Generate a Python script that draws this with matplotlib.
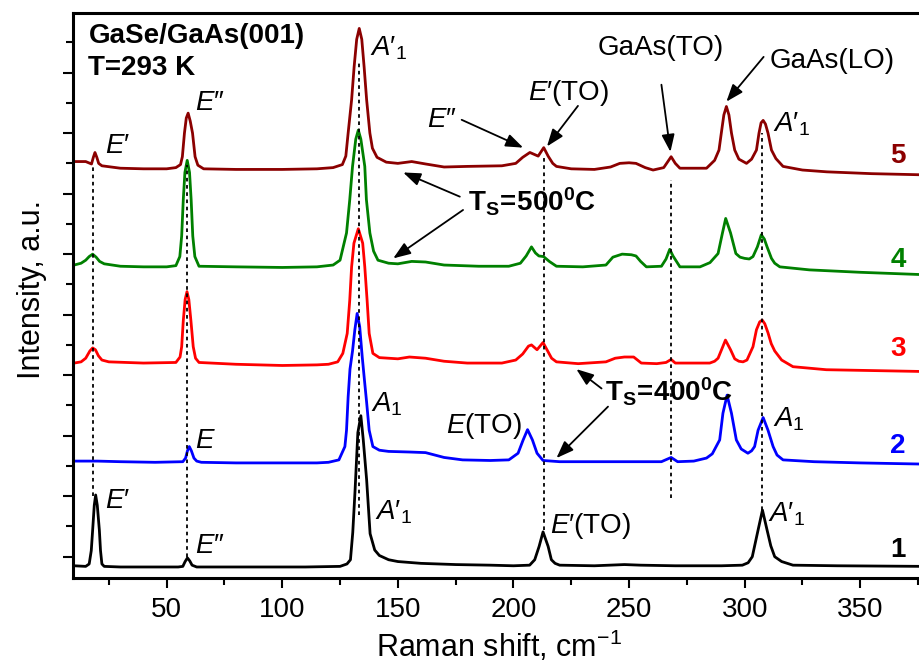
import matplotlib
matplotlib.use("Agg")
import matplotlib.pyplot as plt
import numpy as np
from matplotlib.ticker import MultipleLocator

plt.rcParams['font.family'] = ['Liberation Sans', 'DejaVu Sans']
plt.rcParams['mathtext.fontset'] = 'custom'
plt.rcParams['mathtext.rm'] = 'Liberation Sans'
plt.rcParams['mathtext.it'] = 'Liberation Sans:italic'
plt.rcParams['mathtext.bf'] = 'Liberation Sans:bold'

# spectra: (Raman shift, offset intensity)
spec1 = [(10, -0.15), (15, -0.16), (16.5, -0.12), (17.4, 0.1), (18, 0.44), (18.7, 0.85), (19.3, 1.02),
         (20, 0.85), (20.9, 0.44), (21.4, 0.1), (22, -0.12), (23, -0.16), (30, -0.17), (45, -0.17),
         (55, -0.17), (57, -0.16), (58, -0.08), (59, -0.02), (60, -0.07), (61, -0.14), (63, -0.17),
         (80, -0.17), (110, -0.17), (125, -0.16), (128, -0.12), (129.5, -0.05), (130.5, 0.4),
         (131.5, 1.1), (132.7, 2.05), (134, 2.33), (135, 1.95), (136.5, 1.27), (138, 0.38),
         (140, 0.11), (142, 0.02), (146, -0.05), (150, -0.08), (160, -0.11), (175, -0.13),
         (190, -0.14), (200, -0.15), (207, -0.14), (209.2, -0.05), (211.1, 0.17), (212.8, 0.41),
         (215, 0.17), (216.4, -0.05), (218, -0.11), (220, -0.14), (235, -0.15), (248, -0.13),
         (255, -0.14), (270, -0.15), (290, -0.15), (299, -0.14), (301.5, -0.1), (303.3, 0.0),
         (305.8, 0.44), (307.7, 0.77), (309.7, 0.44), (311.3, 0.18), (313, 0.0), (316, -0.08),
         (320.9, -0.14), (340, -0.15), (378, -0.16)]

spec2 = [(10, 1.58), (20, 1.58), (30, 1.57), (45, 1.56), (57, 1.57), (58.2, 1.63), (59, 1.75),
         (59.8, 1.82), (60.7, 1.75), (61.8, 1.63), (63, 1.58), (65, 1.56), (80, 1.55), (100, 1.55),
         (115, 1.55), (120, 1.56), (124.5, 1.6), (127.1, 1.82), (127.8, 2.09), (128.5, 2.64),
         (129.3, 3.1), (130.4, 3.4), (131.4, 3.75), (132.4, 4.02), (133.5, 3.8), (134.6, 3.3),
         (135.6, 2.9), (136.5, 2.55), (137.6, 2.09), (139.2, 1.82), (142, 1.76), (146, 1.74),
         (155, 1.73), (162, 1.72), (170, 1.64), (178, 1.6), (190, 1.59), (198, 1.6), (202, 1.71),
         (204.2, 1.93), (206.1, 2.1), (208.2, 1.93), (210.2, 1.71), (212.8, 1.59), (220, 1.57),
         (240, 1.57), (264, 1.57), (268.2, 1.64), (271, 1.57), (278, 1.58), (283.5, 1.63),
         (286, 1.7), (289.2, 1.93), (290.6, 2.37), (292.4, 2.67), (294.3, 2.37), (296.4, 1.93),
         (298.5, 1.78), (301.4, 1.71), (303, 1.75), (304.3, 1.82), (305.8, 2.09), (308, 2.3),
         (310.1, 2.09), (312.3, 1.82), (314, 1.68), (316.6, 1.6), (330, 1.57), (350, 1.55),
         (378, 1.53)]

spec3 = [(10, 3.2), (13, 3.22), (15, 3.28), (16.8, 3.4), (18, 3.45), (19.2, 3.42), (20.5, 3.32),
         (22, 3.25), (25, 3.22), (40, 3.2), (54, 3.21), (55.8, 3.3), (56.5, 3.47), (57.2, 3.9),
         (58, 4.25), (58.8, 4.38), (59.6, 4.25), (60.5, 3.9), (61.5, 3.47), (62.5, 3.28), (64, 3.21),
         (80, 3.18), (100, 3.16), (115, 3.17), (120, 3.18), (124, 3.22), (126.2, 3.36), (128.1, 3.69),
         (129.2, 4.24), (130, 4.79), (131, 5.18), (132.9, 5.42), (134.8, 5.18), (135.7, 4.79),
         (136.7, 4.24), (137.6, 3.69), (139.2, 3.36), (142, 3.29), (150, 3.27), (155, 3.3),
         (162, 3.28), (170, 3.23), (180, 3.2), (195, 3.2), (201, 3.25), (204, 3.35), (206.5, 3.48),
         (207.8, 3.5), (210.2, 3.42), (212.8, 3.54), (214.5, 3.42), (216.5, 3.28), (218.6, 3.22),
         (228, 3.19), (240, 3.22), (244, 3.28), (248, 3.3), (252, 3.3), (255.3, 3.2), (262, 3.19),
         (266, 3.21), (268.2, 3.26), (270, 3.2), (284.9, 3.2), (287, 3.23), (288.5, 3.28),
         (290, 3.42), (291.7, 3.58), (293.9, 3.42), (295.7, 3.27), (297.5, 3.23), (299.3, 3.22),
         (301, 3.25), (303.6, 3.47), (305.1, 3.75), (306.5, 3.88), (307.6, 3.91), (308.7, 3.85),
         (310.1, 3.7), (311.5, 3.52), (313, 3.4), (316, 3.25), (320.9, 3.14), (335.3, 3.09),
         (378, 3.06)]

spec4 = [(10, 4.82), (13, 4.85), (15, 4.9), (16.5, 4.96), (18, 5.0), (19.5, 4.95), (21, 4.88),
         (23, 4.84), (30, 4.8), (40, 4.79), (50, 4.79), (54, 4.81), (55.7, 4.96), (56.5, 5.3),
         (57.2, 5.9), (57.9, 6.35), (58.9, 6.55), (59.9, 6.35), (60.6, 5.9), (61.3, 5.3), (62.2, 4.96),
         (64, 4.8), (80, 4.79), (100, 4.78), (115, 4.79), (122, 4.82), (125, 4.9), (127.8, 5.35),
         (129.2, 5.9), (130.4, 6.45), (131.8, 6.9), (132.9, 7.05), (134, 6.9), (135.7, 6.45),
         (136.4, 5.9), (137.9, 5.35), (139.5, 5.05), (141.4, 4.9), (146, 4.85), (150, 4.84),
         (156, 4.88), (162, 4.87), (170, 4.82), (185, 4.8), (198, 4.8), (203, 4.85), (205.5, 4.97),
         (207.8, 5.12), (209.5, 5.02), (211, 4.97), (213, 4.96), (215.5, 4.88), (218.6, 4.8),
         (230, 4.79), (240, 4.82), (243, 4.95), (247, 5.0), (251, 4.99), (253, 4.97), (255, 4.88),
         (257.5, 4.79), (264, 4.8), (266, 4.92), (267.6, 5.08), (269, 4.97), (272, 4.79),
         (280.7, 4.79), (285, 4.86), (288.5, 5.01), (290.4, 5.35), (291.8, 5.59), (293.9, 5.35),
         (296.2, 5.01), (298, 4.95), (300, 4.93), (302, 4.92), (303.6, 4.96), (305.5, 5.12),
         (307.2, 5.32), (308.5, 5.25), (309.7, 5.12), (311.6, 4.93), (313, 4.85), (315.2, 4.79),
         (328, 4.74), (350, 4.7), (378, 4.66)]

spec5 = [(10, 6.53), (15, 6.53), (17.5, 6.49), (18.3, 6.6), (19, 6.68), (19.8, 6.6), (20.6, 6.5),
         (22, 6.46), (30, 6.42), (40, 6.41), (50, 6.41), (54, 6.43), (56, 6.48), (56.8, 6.61),
         (57.7, 7.0), (58.5, 7.25), (59.3, 7.33), (60.2, 7.2), (61.2, 7.0), (62.3, 6.61), (63.5, 6.47),
         (66, 6.41), (80, 6.4), (100, 6.4), (115, 6.41), (122, 6.43), (126, 6.48), (127.5, 6.62),
         (128.5, 7.0), (130, 7.55), (131.1, 8.1), (132.2, 8.55), (133.3, 8.73), (134.4, 8.55),
         (135.4, 8.1), (136.5, 7.55), (137.9, 7.0), (139, 6.75), (141, 6.6), (145, 6.52), (150, 6.5),
         (156, 6.53), (162, 6.49), (170, 6.44), (180, 6.45), (195, 6.46), (201, 6.5), (204, 6.6),
         (207.1, 6.68), (210.7, 6.62), (213.1, 6.76), (215, 6.62), (217, 6.5), (218.6, 6.45),
         (225, 6.41), (235, 6.4), (242, 6.44), (246, 6.5), (250, 6.51), (253, 6.5), (257, 6.43),
         (260.4, 6.39), (265, 6.43), (268.2, 6.61), (270, 6.5), (272, 6.42), (283.5, 6.42),
         (287, 6.55), (288.9, 6.72), (289.9, 7.0), (291, 7.3), (292.1, 7.44), (293.2, 7.3),
         (294.3, 7.0), (295.7, 6.72), (297.5, 6.57), (300.8, 6.5), (303, 6.57), (305.1, 6.72),
         (306.2, 7.0), (307.1, 7.17), (308, 7.21), (309, 7.15), (310.1, 7.0), (311.6, 6.72),
         (313.5, 6.58), (316.6, 6.45), (325, 6.39), (335.6, 6.36), (355, 6.33), (378, 6.31)]

spectra = [spec1, spec2, spec3, spec4, spec5]
colors = ['black', '#0000ff', '#ff0000', '#008000', '#8b0000']
numbers = ['1', '2', '3', '4', '5']
number_y = [0.0, 1.71, 3.31, 4.79, 6.51]

# dashed guide lines: position, bottom, top
guide_x = [18.3, 58.9, 133.3, 213.1, 268.2, 307.7]
guide_lo = [1.0, 0.0, 0.69, 0.44, 0.97, 0.77]
guide_hi = [6.45, 6.47, 8.2, 6.61, 6.23, 7.0]

P1 = "\u2032"
P2 = "\u2033"

# mode labels: text, x, baseline y
mode_labels = [
    ("$E" + P1 + "$", 23.3, 6.67), ("$E" + P2 + "$", 62.3, 7.38), ("$A" + P1 + "_1$", 138.0, 8.29),
    ("$E" + P2 + "$", 162.6, 7.10), ("$E" + P1 + "$(TO)", 206.3, 7.55), ("GaAs(TO)", 236.6, 8.29),
    ("GaAs(LO)", 310.8, 8.07), ("$A" + P1 + "_1$", 312.3, 7.02),
    ("$A_1$", 138.6, 2.40), ("$E$", 62.2, 1.80), ("$E$(TO)", 170.8, 2.04), ("$A_1$", 312.3, 2.15),
    ("$E" + P1 + "$", 23.3, 0.80), ("$E" + P2 + "$", 62.2, 0.06), ("$A" + P1 + "_1$", 140.0, 0.61),
    ("$E" + P1 + "$(TO)", 215.7, 0.39), ("$A" + P1 + "_1$", 310.1, 0.58),
]

# arrows: tail (x, y) -> head (x, y)
arrows = [
    ((177.6, 7.22), (204.2, 6.76)),
    ((227.9, 7.45), (214.5, 6.78)),
    ((264.0, 7.80), (267.9, 6.69)),
    ((308.2, 8.26), (292.1, 7.52)),
    ((176.8, 5.95), (152.3, 6.35)),
    ((178.2, 5.73), (148.0, 4.93)),
    ((238.1, 2.78), (227.2, 3.10)),
    ((240.9, 2.48), (218.6, 1.63)),
]

fig = plt.figure(figsize=(9.19, 6.66), dpi=100)
ax = fig.add_axes([73 / 919, 88 / 666, 852 / 919, 565.3 / 666])

for spec, c in zip(spectra, colors):
    xs = [p[0] for p in spec]
    ys = [p[1] for p in spec]
    ax.plot(xs, ys, color=c, lw=2.0, solid_joinstyle='round', zorder=2)

for gx, lo, hi in zip(guide_x, guide_lo, guide_hi):
    ax.plot([gx, gx], [lo, hi], color='black', lw=1.3, ls=(0, (2, 2)), zorder=3)

for txt, x, y in mode_labels:
    ax.text(x, y, txt, fontsize=20, va='baseline', ha='left', zorder=4)

for (tx, ty), (hx, hy) in arrows:
    ax.annotate('', xy=(hx, hy), xytext=(tx, ty),
                arrowprops=dict(arrowstyle='-|>,head_length=0.75,head_width=0.28',
                                color='black', lw=1.3, mutation_scale=14,
                                shrinkA=0, shrinkB=0), zorder=4)

ax.text(180.4, 5.70, r"$\mathbf{T}_\mathbf{S}\!\mathbf{=}\!\mathbf{500}^\mathbf{0}\mathbf{C}$",
        fontsize=20, va='baseline', ha='left')
ax.text(239.4, 2.56, r"$\mathbf{T}_\mathbf{S}\!\mathbf{=}\!\mathbf{400}^\mathbf{0}\mathbf{C}$",
        fontsize=20, va='baseline', ha='left')

ax.text(16.5, 8.49, "GaSe/GaAs(001)", fontsize=20, fontweight='bold', va='baseline')
ax.text(15.8, 7.96, "T=293 K", fontsize=20, fontweight='bold', va='baseline')

for n, y, c in zip(numbers, number_y, colors):
    ax.text(363, y, n, fontsize=20, fontweight='bold', color=c, va='baseline')

ax.set_xlim(9.5, 378)
ax.set_ylim(-0.352, 8.99)
ax.xaxis.set_major_locator(MultipleLocator(50))
ax.xaxis.set_minor_locator(MultipleLocator(25))
ax.yaxis.set_major_locator(MultipleLocator(1))
ax.yaxis.set_minor_locator(MultipleLocator(0.5))
ax.tick_params(which='major', direction='out', length=7.5, width=1.5, labelsize=20, pad=6)
ax.tick_params(which='minor', direction='out', length=5, width=1.5)
ax.tick_params(axis='y', which='both', labelleft=False)
for s in ax.spines.values():
    s.set_linewidth(2.2)

ax.set_xlabel("Raman shift, cm$^{-1}$", fontsize=22, va='bottom')
ax.set_ylabel("Intensity, a.u.", fontsize=22)
ax.yaxis.set_label_coords(-0.03, 0.51)
ax.xaxis.set_label_coords(0.5, -0.152)

fig.savefig("out.png", dpi=100)
